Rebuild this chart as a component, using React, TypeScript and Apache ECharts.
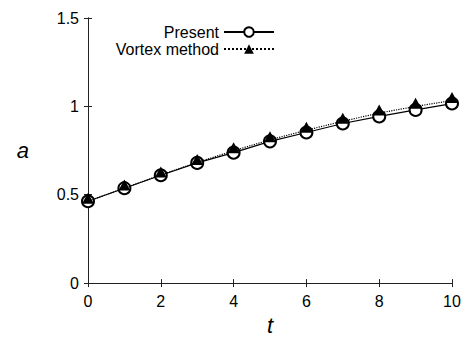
import React, { useEffect, useRef } from "react";
import * as echarts from "echarts";

const tValues = [0, 1, 2, 3, 4, 5, 6, 7, 8, 9, 10];
const presentValues = [0.463, 0.537, 0.61, 0.68, 0.738, 0.802, 0.852, 0.903, 0.943, 0.98, 1.016];
const vortexValues = [0.463, 0.538, 0.612, 0.683, 0.749, 0.811, 0.865, 0.916, 0.962, 1.0, 1.033];
const xTicks = [0, 2, 4, 6, 8, 10];
const yTicks = [0, 0.5, 1, 1.5];

const FONT = "Liberation Sans, Arial, Helvetica, sans-serif";

export default function App() {
  const ref = useRef<HTMLDivElement>(null);
  useEffect(() => {
    if (!ref.current) return;
    const chart = echarts.init(ref.current, null, { renderer: "svg" });
    const axisColor = "#222";
    const common = {
      axisLine: { show: true, lineStyle: { color: axisColor, width: 1 } },
      axisTick: { show: true, inside: true, length: 4, lineStyle: { color: axisColor } },
      splitLine: { show: false },
    };
    chart.setOption({
      animation: false,
      backgroundColor: "#fff",
      textStyle: { fontFamily: FONT },
      grid: { left: 88, right: 14, top: 18, bottom: 50 },
      legend: {
        orient: "vertical",
        align: "right",
        right: 186,
        top: 19,
        itemWidth: 50,
        itemHeight: 12,
        itemGap: 1,
        textStyle: { fontFamily: FONT, fontSize: 16, color: "#000" },
        data: ["Present", "Vortex method"],
      },
      xAxis: [
        {
          type: "value",
          min: 0,
          max: 10,
          interval: 2,
          position: "bottom",
          name: "t",
          nameLocation: "middle",
          nameGap: 26,
          nameTextStyle: { fontFamily: FONT, fontSize: 22, fontStyle: "italic", color: "#000" },
          axisLabel: {
            fontFamily: FONT,
            fontSize: 16,
            color: "#000",
            margin: 10,
            formatter: (v: number) => (xTicks.includes(v) ? String(v) : ""),
          },
          ...common,
        },
        {
          type: "value",
          min: 0,
          max: 10,
          interval: 2,
          position: "top",
          axisLabel: { show: false },
          ...common,
        },
      ],
      yAxis: [
        {
          type: "value",
          min: 0,
          max: 1.5,
          interval: 0.5,
          position: "left",
          name: "a",
          nameLocation: "middle",
          nameRotate: 0,
          nameGap: 59,
          nameTextStyle: { fontFamily: FONT, fontSize: 22, fontStyle: "italic", color: "#000" },
          axisLabel: {
            fontFamily: FONT,
            fontSize: 16,
            color: "#000",
            margin: 9,
            formatter: (v: number) => (yTicks.includes(v) ? String(v) : ""),
          },
          ...common,
        },
        {
          type: "value",
          min: 0,
          max: 1.5,
          interval: 0.5,
          position: "right",
          axisLabel: { show: false },
          ...common,
        },
      ],
      series: [
        {
          name: "Present",
          type: "line",
          data: tValues.map((t, i) => [t, presentValues[i]]),
          symbol: "emptyCircle",
          symbolSize: 12,
          lineStyle: { color: "#000", width: 1.2, type: "solid" },
          itemStyle: { color: "#000", borderColor: "#000", borderWidth: 1.2 },
          z: 2,
        },
        {
          name: "Vortex method",
          type: "line",
          data: tValues.map((t, i) => [t, vortexValues[i]]),
          symbol: "triangle",
          symbolSize: [12, 11],
          symbolOffset: [0, -3],
          lineStyle: { color: "#000", width: 1.2, type: "dotted" },
          itemStyle: { color: "#000" },
          z: 3,
        },
      ],
    });
    return () => chart.dispose();
  }, []);
  return (
    <div
      ref={ref}
      style={{ position: "fixed", left: 0, top: 0, width: 466, height: 341, background: "#fff" }}
    />
  );
}
